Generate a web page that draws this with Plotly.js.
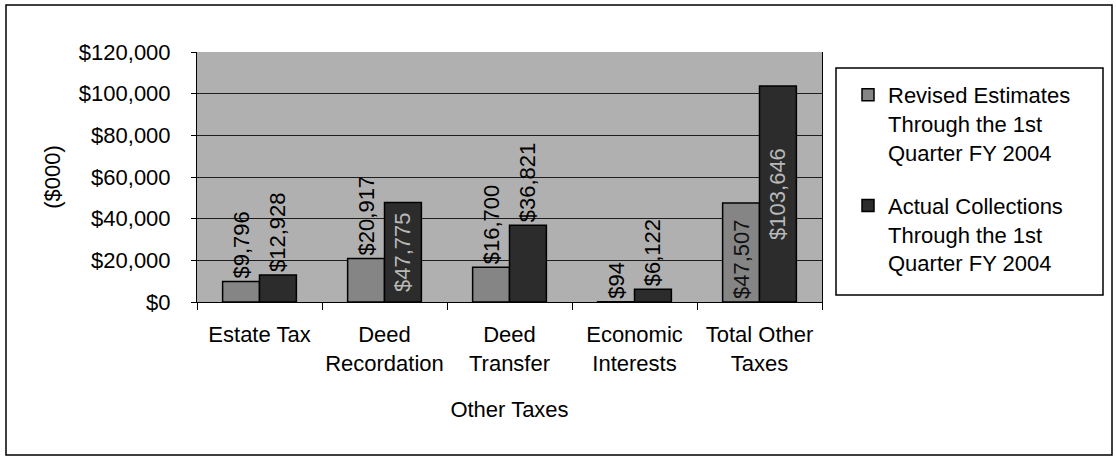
<!DOCTYPE html>
<html>
<head>
<meta charset="utf-8">
<script src="https://cdn.plot.ly/plotly-3.0.1.min.js"></script>
<style>
html,body{margin:0;padding:0;background:#fff;}
#chart{width:1116px;height:458px;}
</style>
</head>
<body>
<div id="chart"></div>
<script>
const categories = ["Estate Tax", "Deed<br>Recordation", "Deed<br>Transfer", "Economic<br>Interests", "Total Other<br>Taxes"];
const revisedEstimates = [9796, 20917, 16700, 94, 47507];
const actualCollections = [12928, 47775, 36821, 6122, 103646];
const revisedName = "Revised Estimates<br>Through the 1st<br>Quarter FY 2004";
const actualName = "Actual Collections<br>Through the 1st<br>Quarter FY 2004";
const yTicks = [0, 20000, 40000, 60000, 80000, 100000, 120000];
const yTickLabels = ["$0", "$20,000", "$40,000", "$60,000", "$80,000", "$100,000", "$120,000"];

const fmt = v => "$" + v.toLocaleString("en-US");
const FONT = "Liberation Sans, Arial, sans-serif";
const FS = 22;

const traces = [
  {
    type: "bar", name: revisedName, legendgroup: "rev", x: categories, y: revisedEstimates,
    text: revisedEstimates.map(fmt), textangle: -90,
    textposition: ["outside", "outside", "outside", "outside", "inside"],
    insidetextanchor: "start", constraintext: "none", cliponaxis: false,
    textfont: {family: FONT, size: FS, color: "#000"},
    insidetextfont: {family: FONT, size: FS, color: "#111"},
    outsidetextfont: {family: FONT, size: FS, color: "#000"},
    marker: {color: "#858585", line: {color: "#000", width: 1.5}},
    hoverinfo: "y"
  },
  {
    type: "bar", name: actualName, legendgroup: "act", x: categories, y: actualCollections,
    text: actualCollections.map(fmt), textangle: -90,
    textposition: ["outside", "inside", "outside", "outside", "inside"],
    insidetextanchor: "middle", constraintext: "none", cliponaxis: false,
    textfont: {family: FONT, size: FS, color: "#000"},
    insidetextfont: {family: FONT, size: FS, color: "#b8b8b8"},
    outsidetextfont: {family: FONT, size: FS, color: "#000"},
    marker: {color: "#2c2c2c", line: {color: "#000", width: 1.5}},
    hoverinfo: "y"
  }
];

const L = 197, R = 822, T = 52, B = 302;
const W = 1116, H = 458;
const pw = R - L, ph = B - T;
const px = v => (v - L) / pw;
const py = v => (B - v) / ph;

const layout = {
  width: W, height: H,
  margin: {l: L, r: W - R, t: T, b: H - B, pad: 0},
  paper_bgcolor: "#fff",
  plot_bgcolor: "#b0b0b0",
  font: {family: FONT, size: FS, color: "#000"},
  barmode: "group",
  bargap: 0.41,
  bargroupgap: 0,
  showlegend: true,
  legend: {
    x: px(848), y: py(74), xanchor: "left", yanchor: "top",
    bgcolor: "rgba(0,0,0,0)", borderwidth: 0,
    font: {family: FONT, size: FS, color: "#000"},
    tracegroupgap: 22, itemwidth: 30, traceorder: "grouped", valign: "top"
  },
  xaxis: {
    type: "category",
    tickangle: 0,
    tickson: "boundaries", ticks: "outside", ticklen: 7, tickcolor: "#000",
    ticklabelstandoff: 13,
    showline: true, linecolor: "#000", linewidth: 1,
    showgrid: false, tickfont: {family: FONT, size: FS},
    title: {text: "Other Taxes", font: {family: FONT, size: FS}, standoff: 26},
    fixedrange: true
  },
  yaxis: {
    range: [0, 120000],
    tickvals: yTicks, ticktext: yTickLabels,
    ticks: "outside", ticklen: 5, tickcolor: "#000",
    ticklabelstandoff: 16,
    showline: true, mirror: true, linecolor: "#000", linewidth: 1,
    showgrid: true, gridcolor: "#1e1e1e", gridwidth: 1,
    zeroline: false,
    tickfont: {family: FONT, size: FS},
    title: {text: "($000)", font: {family: FONT, size: FS}, standoff: 12},
    fixedrange: true
  },
  shapes: [
    {type: "rect", xref: "paper", yref: "paper",
     x0: px(6), x1: px(1112), y0: py(455), y1: py(5),
     line: {color: "#000", width: 1.5}, fillcolor: "rgba(0,0,0,0)", layer: "below"},
    {type: "rect", xref: "paper", yref: "paper",
     x0: px(836), x1: px(1103), y0: py(295), y1: py(68),
     line: {color: "#000", width: 1.5}, fillcolor: "#fff", layer: "below"}
  ]
};

Plotly.newPlot("chart", traces, layout, {displayModeBar: false, staticPlot: true});
</script>
</body>
</html>
